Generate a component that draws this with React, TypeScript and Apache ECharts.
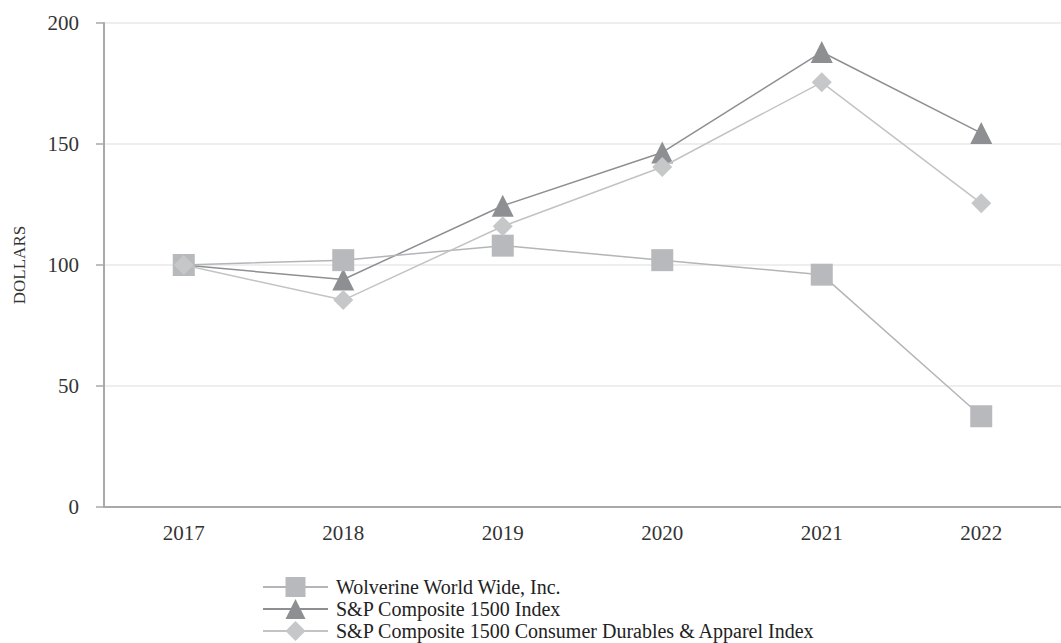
import React, { useEffect, useRef } from "react";
import * as echarts from "echarts";

const years = ["2017", "2018", "2019", "2020", "2021", "2022"];
const wolverine = [100, 102, 108, 102, 96, 37.5];
const sp1500 = [100, 94, 124.5, 146.5, 188, 154.5];
const durables = [100, 85.5, 116, 140.5, 175.5, 125.5];
const yTicks = { min: 0, max: 200, interval: 50 };

const FONT = "'Liberation Serif', 'Times New Roman', serif";

export default function App() {
  const ref = useRef<HTMLDivElement>(null);
  useEffect(() => {
    if (!ref.current) return;
    const chart = echarts.init(ref.current, undefined, { renderer: "svg" });
    chart.setOption({
      animation: false,
      backgroundColor: "#ffffff",
      textStyle: { fontFamily: FONT },
      grid: { left: 104, top: 23, width: 969, height: 484 },
      legend: {
        orient: "vertical",
        left: 262,
        top: 577,
        height: 90,
        padding: 0,
        itemWidth: 65,
        itemHeight: 25,
        itemGap: 2,
        textStyle: { fontFamily: FONT, fontSize: 20, color: "#222", padding: [0, 0, 0, 3] },
        data: [
          "Wolverine World Wide, Inc.",
          "S&P Composite 1500 Index",
          "S&P Composite 1500 Consumer Durables & Apparel Index",
        ],
      },
      xAxis: {
        type: "category",
        data: years,
        boundaryGap: true,
        axisLine: { lineStyle: { color: "#a8a9ab", width: 2 } },
        axisTick: { alignWithLabel: true, length: 8, lineStyle: { color: "#a8a9ab", width: 1.5 } },
        axisLabel: { fontFamily: FONT, fontSize: 21, color: "#333", margin: 15 },
        splitLine: { show: false },
      },
      yAxis: {
        type: "value",
        min: yTicks.min,
        max: yTicks.max,
        interval: yTicks.interval,
        name: "DOLLARS",
        nameLocation: "middle",
        nameGap: 76,
        nameRotate: 90,
        nameTextStyle: { fontFamily: FONT, fontSize: 17, color: "#333" },
        axisLine: { show: true, lineStyle: { color: "#a8a9ab", width: 2 } },
        axisTick: { show: true, length: 8, lineStyle: { color: "#a8a9ab", width: 1.5 } },
        axisLabel: { fontFamily: FONT, fontSize: 21, color: "#333", margin: 25 },
        splitLine: { show: true, lineStyle: { color: "#e8e8e8", width: 1.5 } },
      },
      series: [
        {
          name: "Wolverine World Wide, Inc.",
          type: "line",
          data: wolverine,
          symbol: "rect",
          symbolSize: 22,
          lineStyle: { color: "#b4b5b8", width: 1.5 },
          itemStyle: { color: "#b8b9bc" },
          z: 3,
        },
        {
          name: "S&P Composite 1500 Index",
          type: "line",
          data: sp1500,
          symbol: "triangle",
          symbolSize: 22,
          lineStyle: { color: "#8e8f93", width: 1.5 },
          itemStyle: { color: "#8e8f93" },
          z: 2,
        },
        {
          name: "S&P Composite 1500 Consumer Durables & Apparel Index",
          type: "line",
          data: durables,
          symbol: "diamond",
          symbolSize: 20,
          lineStyle: { color: "#c2c3c5", width: 1.5 },
          itemStyle: { color: "#c6c7c9" },
          z: 4,
        },
      ],
    });
    return () => chart.dispose();
  }, []);
  return (
    <div
      ref={ref}
      style={{ position: "fixed", left: 0, top: 0, width: 1061, height: 643, background: "#fff" }}
    />
  );
}
